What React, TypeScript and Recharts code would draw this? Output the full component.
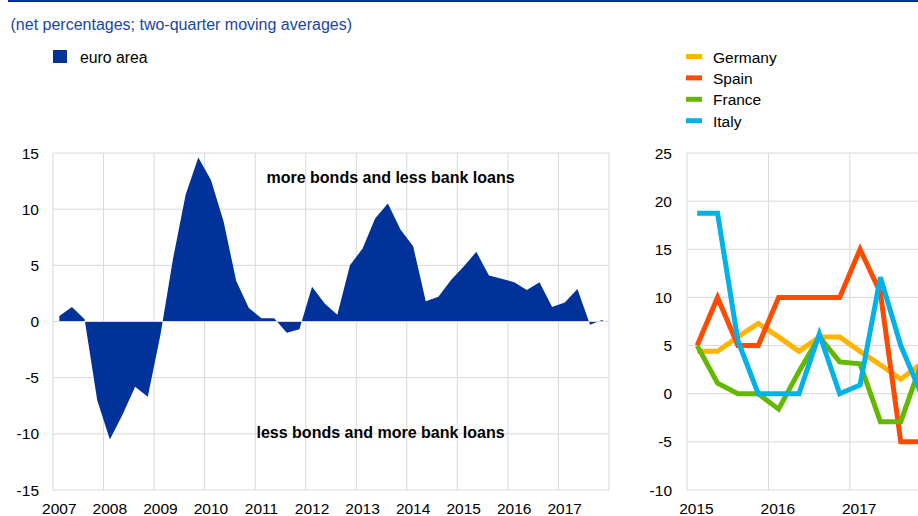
import { Area, AreaChart, CartesianGrid, Line, LineChart, ReferenceLine, XAxis, YAxis } from 'recharts';

const FONT = 'Arial, "Liberation Sans", sans-serif';
const ECB_BLUE = '#003299';
const GRID = '#d9d9d9';
const FS = 15.5;

// euro area, quarterly 2007 Q1 - 2017 Q4
const euroArea = [
  0.5, 1.3, 0.2, -7.0, -10.5, -8.3, -5.8, -6.7, -1.2, 5.6, 11.3, 14.6, 12.6, 8.9, 3.6, 1.2,
  0.3, 0.3, -1.0, -0.7, 3.1, 1.6, 0.6, 5.0, 6.5, 9.2, 10.5, 8.2, 6.7, 1.8, 2.2, 3.7,
  4.9, 6.2, 4.1, 3.8, 3.5, 2.8, 3.5, 1.3, 1.7, 2.9, -0.3, 0.15,
];

// countries, quarterly 2015 Q1 - 2017 Q4
const germany = [4.4, 4.4, 5.9, 7.3, 5.9, 4.4, 5.9, 5.9, 4.4, 3.0, 1.5, 3.1];
const spain = [5, 10, 5, 5, 10, 10, 10, 10, 15, 10.5, -5, -5];
const france = [5, 1.1, 0, 0, -1.6, 2.3, 5.9, 3.3, 3.1, -2.9, -2.9, 3.1];
const italy = [18.75, 18.75, 5.5, 0, 0, 0, 6.2, 0, 0.9, 12.1, 5.0, 0];

const countryNames = ['Germany', 'Spain', 'France', 'Italy'];
const countryKeys = ['germany', 'spain', 'france', 'italy'];
const countryColors = ['#ffb400', '#ff4b00', '#65b800', '#00b1ea'];

const leftYears = [2007, 2008, 2009, 2010, 2011, 2012, 2013, 2014, 2015, 2016, 2017, 2018];
const rightYears = [2015, 2016, 2017, 2018];
const leftTicks = [-15, -10, -5, 0, 5, 10, 15];
const rightTicks = [-10, -5, 0, 5, 10, 15, 20, 25];

// quarter midpoint on a year scale
const qPos = (start: number, i: number) => start + Math.floor(i / 4) + ((i % 4) + 0.5) / 4;

const euroData = euroArea.map((value, i) => ({ t: qPos(2007, i), value }));
const countryData = germany.map((_, i) => ({
  t: qPos(2015, i),
  germany: germany[i],
  spain: spain[i],
  france: france[i],
  italy: italy[i],
}));

function YearTick(props: any) {
  const { x, y, payload, shift, last } = props;
  if (payload.value > last) return <g />;
  return (
    <text x={x + shift} y={y} dy={11.2} textAnchor="middle" fontSize={FS} fontFamily={FONT} fill="#000">
      {payload.value}
    </text>
  );
}

const yTick = { fontSize: FS, fontFamily: FONT, fill: '#000' };

export default function App() {
  return (
    <div style={{ position: 'relative', width: 918, height: 516, overflow: 'hidden', background: '#fff' }}>
      <style>{'html, body { margin: 0; padding: 0; }'}</style>
      <div style={{ position: 'absolute', left: 0, top: 0 }}>
        <AreaChart width={620} height={516} data={euroData} margin={{ top: 153, right: 11, bottom: 0, left: 0 }}>
          <CartesianGrid stroke={GRID} />
          <XAxis
            type="number"
            dataKey="t"
            domain={[2007, 2018]}
            ticks={leftYears}
            interval={0}
            height={26}
            axisLine={false}
            tickLine={false}
            tickSize={0}
            tickMargin={13}
            tick={(p: any) => <YearTick {...p} shift={6.3} last={2017} />}
          />
          <YAxis
            type="number"
            domain={[-15, 15]}
            ticks={leftTicks}
            interval={0}
            width={53}
            axisLine={false}
            tickLine={false}
            tickSize={0}
            tickMargin={14}
            tick={yTick}
          />
          <Area
            type="linear"
            dataKey="value"
            baseValue={0}
            fill={ECB_BLUE}
            fillOpacity={1}
            stroke="none"
            isAnimationActive={false}
          />
          <ReferenceLine y={0} stroke={GRID} />
        </AreaChart>
      </div>

      <div style={{ position: 'absolute', left: 630, top: 0 }}>
        <LineChart width={342} height={516} data={countryData} margin={{ top: 153, right: 0, bottom: 0, left: 0 }}>
          <CartesianGrid stroke={GRID} />
          <XAxis
            type="number"
            dataKey="t"
            domain={[2015, 2018.5]}
            ticks={rightYears}
            interval={0}
            height={26}
            axisLine={false}
            tickLine={false}
            tickSize={0}
            tickMargin={13}
            tick={(p: any) => <YearTick {...p} shift={9.4} last={2017} />}
          />
          <YAxis
            type="number"
            domain={[-10, 25]}
            ticks={rightTicks}
            interval={0}
            width={57}
            axisLine={false}
            tickLine={false}
            tickSize={0}
            tickMargin={15}
            tick={yTick}
          />
          {countryKeys.map((key, i) => (
            <Line
              key={key}
              type="linear"
              dataKey={key}
              name={countryNames[i]}
              stroke={countryColors[i]}
              strokeWidth={5}
              dot={false}
              isAnimationActive={false}
            />
          ))}
        </LineChart>
      </div>

      <svg width={918} height={516} style={{ position: 'absolute', left: 0, top: 0, pointerEvents: 'none' }} fontFamily={FONT}>
        <rect x={8} y={0} width={910} height={2} fill={ECB_BLUE} />
        <text x={10.5} y={30} fontSize={16} fill="#1a47a0">
          (net percentages; two-quarter moving averages)
        </text>

        <rect x={53} y={50} width={14} height={13} fill={ECB_BLUE} />
        <text x={80} y={63} fontSize={15.8} fill="#000">euro area</text>

        {countryNames.map((name, i) => (
          <g key={name}>
            <rect x={686} y={54 + i * 21.4} width={16} height={5} fill={countryColors[i]} />
            <text x={713} y={63 + i * 21.2} fontSize={FS} fill="#000">{name}</text>
          </g>
        ))}

        <text x={266.5} y={183} fontSize={16} fontWeight="bold" fill="#000">more bonds and less bank loans</text>
        <text x={256.5} y={438} fontSize={16} fontWeight="bold" fill="#000">less bonds and more bank loans</text>
      </svg>
    </div>
  );
}
